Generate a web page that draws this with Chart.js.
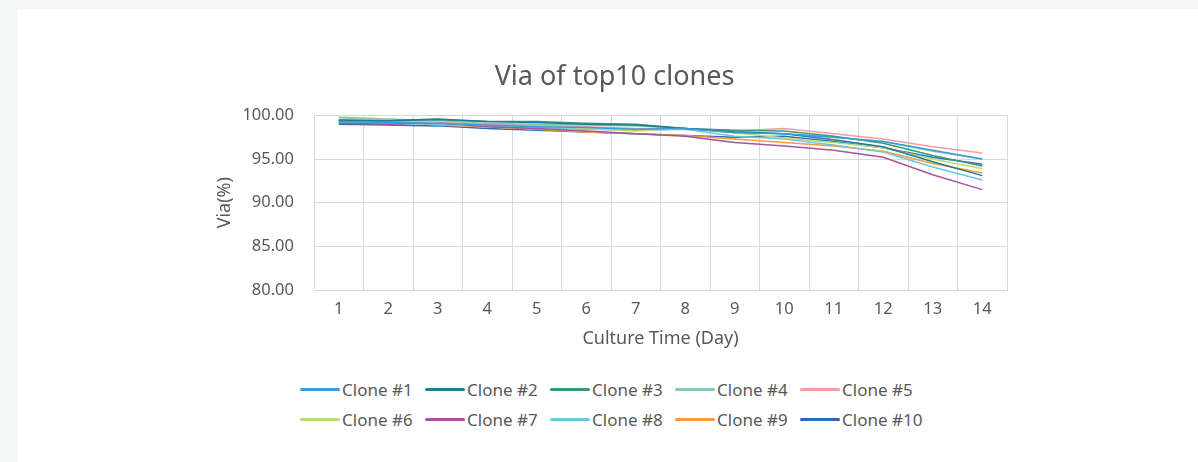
<!DOCTYPE html>
<html>
<head>
<meta charset="utf-8">
<script src="https://cdn.jsdelivr.net/npm/chart.js@4/dist/chart.umd.min.js"></script>
<style>
  html, body { margin: 0; padding: 0; background: #f5f7f7; }
  #panel { position: absolute; left: 18px; top: 9px; width: 1180px; height: 453px; background: #fff; }
  #chart { position: absolute; left: 0; top: 0; }
  #legend {
    position: absolute; left: 282px; top: 365px;
    display: grid; grid-template-columns: repeat(5, 125px); grid-auto-rows: 30px;
    font-family: "Noto Sans", sans-serif; font-size: 17px; color: #595959;
  }
  #legend .item { display: flex; align-items: center; white-space: nowrap; }
  #legend .swatch { width: 40px; height: 3px; border-radius: 2px; margin-right: 2px; }
</style>
</head>
<body>
<div id="panel">
  <canvas id="chart" width="1180" height="360"></canvas>
  <div id="legend"></div>
</div>
<script>
const days = ['1', '2', '3', '4', '5', '6', '7', '8', '9', '10', '11', '12', '13', '14'];

const clone1 = [99.3, 99.2, 99.1, 98.9, 98.7, 98.6, 98.4, 98.5, 98.0, 97.9, 97.5, 97.0, 96.0, 95.0];
const clone2 = [99.4, 99.4, 99.6, 99.3, 99.2, 99.0, 98.9, 98.5, 98.1, 97.9, 97.2, 96.4, 94.7, 93.1];
const clone3 = [99.5, 99.4, 99.5, 99.3, 99.3, 99.1, 99.0, 98.5, 98.3, 98.2, 97.6, 96.8, 95.4, 94.2];
const clone4 = [99.8, 99.6, 99.4, 99.1, 99.0, 98.9, 98.8, 98.5, 98.2, 97.9, 97.5, 97.0, 95.9, 95.0];
const clone5 = [99.4, 99.3, 99.2, 99.0, 98.9, 98.7, 98.5, 98.5, 98.2, 98.5, 97.9, 97.3, 96.4, 95.7];
const clone6 = [99.7, 99.5, 99.2, 98.9, 98.8, 98.5, 98.2, 98.5, 98.0, 97.4, 96.9, 96.3, 95.0, 93.9];
const clone7 = [99.1, 99.0, 99.2, 98.7, 98.5, 98.2, 97.9, 97.6, 96.9, 96.5, 96.0, 95.2, 93.2, 91.5];
const clone8 = [99.2, 99.1, 99.0, 98.8, 98.6, 98.4, 98.3, 98.4, 97.6, 97.3, 96.6, 95.8, 94.1, 92.6];
const clone9 = [99.5, 99.3, 98.9, 98.7, 98.4, 98.1, 97.9, 97.7, 97.3, 96.9, 96.5, 95.9, 94.5, 93.4];
const clone10 = [99.0, 98.9, 98.8, 98.5, 98.3, 98.1, 97.9, 97.7, 97.5, 97.6, 97.0, 96.3, 95.2, 94.4];

const seriesNames = ['Clone #1', 'Clone #2', 'Clone #3', 'Clone #4', 'Clone #5',
                     'Clone #6', 'Clone #7', 'Clone #8', 'Clone #9', 'Clone #10'];
const seriesData = [clone1, clone2, clone3, clone4, clone5, clone6, clone7, clone8, clone9, clone10];
const colors = ['#3d9ad8', '#1e7d92', '#3a9a7a', '#80cbb0', '#f19da6',
                '#bcd97a', '#a653a0', '#6cc7e0', '#f39b3a', '#2f6bb3'];

const FONT = '"Noto Sans", sans-serif';
const TEXT = '#595959';
const GRID = '#d9d9d9';

Chart.defaults.font.family = FONT;
Chart.defaults.color = TEXT;

const chart = new Chart(document.getElementById('chart'), {
    type: 'line',
    data: {
        labels: days,
        datasets: seriesData.map((d, i) => ({
            label: seriesNames[i],
            data: d,
            borderColor: colors[i],
            backgroundColor: colors[i],
            borderWidth: 1.5,
            pointRadius: 0,
            tension: 0,
            fill: false
        }))
    },
    options: {
        responsive: false,
        animation: false,
        devicePixelRatio: 1,
        // left padding a bit larger than right so the title sits where Excel put it
        layout: { padding: { left: 204, right: 191, top: 0, bottom: 19 } },
        plugins: {
            legend: { display: false },
            tooltip: { enabled: false },
            title: {
                display: true,
                text: 'Via of top10 clones',
                color: TEXT,
                font: { size: 27, weight: 'normal' },
                padding: { top: 52, bottom: 22 }
            }
        },
        scales: {
            x: {
                offset: true,
                grid: { color: GRID, offset: true, drawTicks: false },
                border: { color: GRID },
                ticks: { font: { size: 16.5 }, color: TEXT, padding: 9, maxRotation: 0 },
                title: { display: true, text: 'Culture Time (Day)', font: { size: 18 }, color: TEXT, padding: 0 },
                afterFit: s => { s.height = 60; }
            },
            y: {
                min: 80,
                max: 100,
                grid: { color: GRID, drawTicks: false },
                border: { display: false },
                ticks: { stepSize: 5, font: { size: 16.5 }, color: TEXT, padding: 20,
                         callback: v => v.toFixed(2) },
                title: { display: true, text: 'Via(%)', font: { size: 18 }, color: TEXT, padding: { top: -8 } },
                afterFit: s => { s.width = 92; }
            }
        }
    }
});

const legend = document.getElementById('legend');
chart.data.datasets.forEach(ds => {
    const item = document.createElement('div');
    item.className = 'item';
    const sw = document.createElement('span');
    sw.className = 'swatch';
    sw.style.background = ds.borderColor;
    const txt = document.createElement('span');
    txt.textContent = ds.label;
    item.appendChild(sw);
    item.appendChild(txt);
    legend.appendChild(item);
});
</script>
</body>
</html>
